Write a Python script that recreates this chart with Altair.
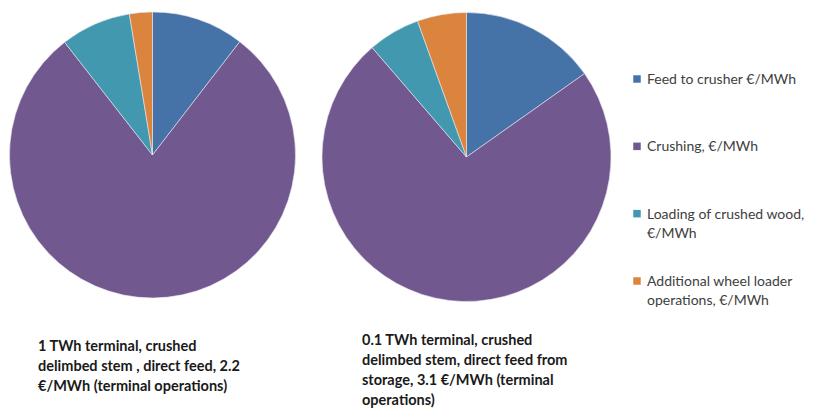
import altair as alt
import pandas as pd

categories = [
    "Feed to crusher €/MWh",
    "Crushing, €/MWh",
    "Loading of crushed wood, €/MWh",
    "Additional wheel loader operations, €/MWh",
]
legend_labels = [
    "Feed to crusher €/MWh",
    "Crushing, €/MWh",
    "Loading of crushed wood,\n€/MWh",
    "Additional wheel loader\noperations, €/MWh",
]
colors = ["#4572A7", "#71588F", "#4198AF", "#DB843D"]

# €/MWh per cost item
left_values = [0.23, 1.74, 0.175, 0.057]    # 1 TWh terminal, total 2.2
right_values = [0.47, 2.27, 0.18, 0.17]     # 0.1 TWh terminal, total 3.1

left_caption = "1 TWh terminal, crushed\ndelimbed stem , direct feed, 2.2\n€/MWh (terminal operations)"
right_caption = "0.1 TWh terminal, crushed\ndelimbed stem,  direct feed from\nstorage, 3.1 €/MWh (terminal\noperations)"

FONT = "Lato"

left_df = pd.DataFrame({"category": categories, "value": left_values, "idx": range(4)})
right_df = pd.DataFrame({"category": categories, "value": right_values, "idx": range(4)})
legend_df = pd.DataFrame({"category": categories, "label": legend_labels, "idx": range(4)})

color = alt.Color("category:N", scale=alt.Scale(domain=categories, range=colors), legend=None)


def pie(df, cx, cy, r):
    return alt.Chart(df).mark_arc(stroke="#e8e8f0", strokeWidth=0.6).encode(
        theta=alt.Theta("value:Q", stack="normalize"),
        order=alt.Order("idx:Q"),
        color=color,
        x=alt.value(cx),
        y=alt.value(cy),
        radius=alt.value(r),
    )


left_pie = pie(left_df, 144.5, 147, 143)
right_pie = pie(right_df, 458.5, 149, 144.5)

ypos = alt.Y("idx:Q", scale=alt.Scale(domain=[0, 3], range=[71, 273]), axis=None)

legend_sq = alt.Chart(legend_df).mark_square(size=56, opacity=1).encode(
    x=alt.value(629),
    y=ypos,
    color=color,
)
legend_txt = alt.Chart(legend_df).mark_text(
    align="left", baseline="alphabetic", font=FONT, fontSize=14, color="#404040",
    lineBreak="\n", lineHeight=19, dy=5,
).encode(
    x=alt.value(639),
    y=ypos,
    text="label:N",
)

cap_df = pd.DataFrame({"caption": [left_caption, right_caption]})
left_cap = alt.Chart(cap_df.iloc[[0]]).mark_text(
    align="left", baseline="alphabetic", font=FONT, fontSize=14.5, fontWeight="bold",
    color="#1a1a1a", lineBreak="\n", lineHeight=20,
).encode(x=alt.value(30), y=alt.value(343), text="caption:N")
right_cap = alt.Chart(cap_df.iloc[[1]]).mark_text(
    align="left", baseline="alphabetic", font=FONT, fontSize=14.5, fontWeight="bold",
    color="#1a1a1a", lineBreak="\n", lineHeight=20,
).encode(x=alt.value(354), y=alt.value(337), text="caption:N")

chart = alt.layer(
    left_pie, right_pie, legend_sq, legend_txt, left_cap, right_cap
).properties(
    width=806, height=400, autosize=alt.AutoSizeParams(type="none"), padding=0,
    background="white",
).configure_view(stroke=None)

chart.save("out.html", embed_options={"renderer": "svg", "actions": False})
